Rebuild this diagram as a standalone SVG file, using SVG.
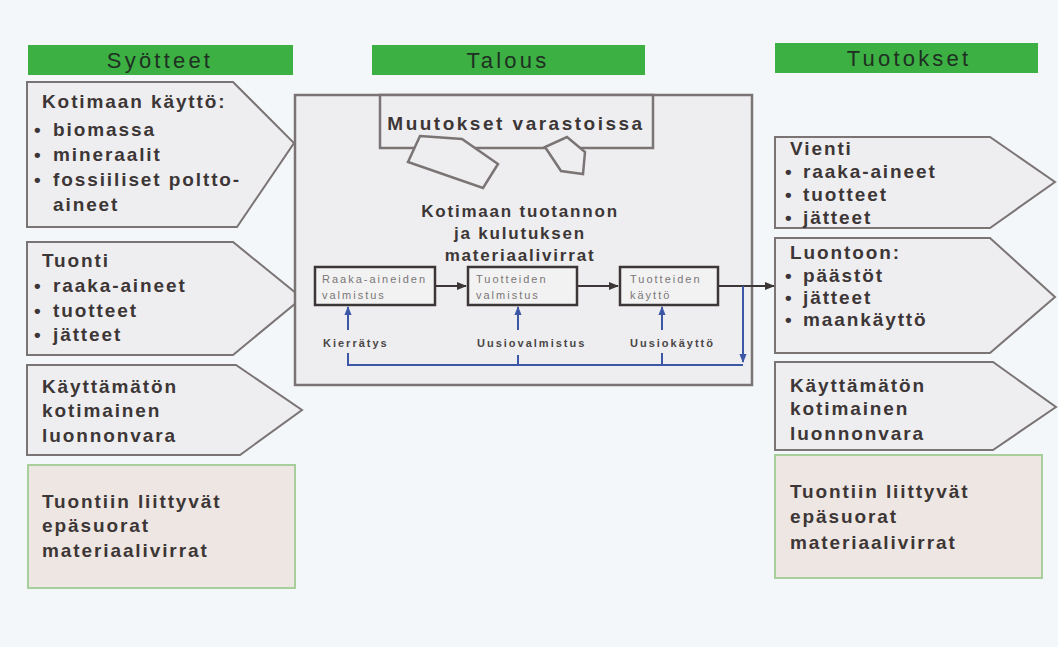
<svg xmlns="http://www.w3.org/2000/svg" width="1058" height="647" viewBox="0 0 1058 647">
<style>
text{font-family:"Liberation Sans",Arial,sans-serif;}
.hdr{fill:#3cb043;}
.ht{font-size:22px;letter-spacing:3.2px;fill:#1f2f22;text-anchor:middle;}
.arr{fill:#eeeef0;stroke:#7b7474;stroke-width:2;}
.box{fill:#eeeef0;stroke:#7b7474;stroke-width:2.5;}
.ind{fill:#ede6e2;stroke:#a6cf9c;stroke-width:2;}
.t{font-size:19px;font-weight:bold;letter-spacing:1.9px;fill:#3d3636;}
.c{font-size:17px;font-weight:bold;letter-spacing:1.8px;fill:#3d3636;text-anchor:middle;}
.pb{fill:#f2f2f3;stroke:#3d3636;stroke-width:2.5;}
.pt{font-size:11px;letter-spacing:2px;fill:#7a7676;}
.bt{font-size:11px;font-weight:bold;letter-spacing:2px;fill:#4a4646;}
.flow{stroke:#3d3636;stroke-width:2;fill:none;}
.blue{stroke:#3b57a6;stroke-width:2;fill:none;}
</style>
<defs>
<marker id="ah" viewBox="0 0 10 10" refX="9" refY="5" markerWidth="5" markerHeight="5" orient="auto"><path d="M0,1 L10,5 L0,9 z" fill="#3d3636"/></marker>
<marker id="bh" viewBox="0 0 10 10" refX="9" refY="5" markerWidth="4.5" markerHeight="4.5" orient="auto"><path d="M0,1 L10,5 L0,9 z" fill="#3b57a6"/></marker>
</defs>
<rect x="0" y="0" width="1058" height="647" fill="#f4f7fa"/>

<g id="hdr-syotteet"><rect class="hdr" x="28" y="45" width="265" height="30"/><text class="ht" x="160" y="68">Syötteet</text></g>
<g id="hdr-talous"><rect class="hdr" x="372" y="45" width="273" height="30"/><text class="ht" x="508" y="68">Talous</text></g>
<g id="hdr-tuotokset"><rect class="hdr" x="775" y="43" width="263" height="30"/><text class="ht" x="909" y="66">Tuotokset</text></g>

<g id="in-kotimaan">
<polygon class="arr" points="27,82 233,82 294,143 237,227 27,227"/>
<text class="t" x="42" y="108">Kotimaan käyttö:</text>
<text class="t" x="34" y="136">•<tspan x="53">biomassa</tspan></text>
<text class="t" x="34" y="161">•<tspan x="53">mineraalit</tspan></text>
<text class="t" x="34" y="186">•<tspan x="53">fossiiliset poltto-</tspan></text>
<text class="t" x="53" y="211">aineet</text>
</g>
<g id="in-tuonti">
<polygon class="arr" points="27,242 233,242 302,298 233,355 27,355"/>
<text class="t" x="42" y="267">Tuonti</text>
<text class="t" x="34" y="292">•<tspan x="53">raaka-aineet</tspan></text>
<text class="t" x="34" y="317">•<tspan x="53">tuotteet</tspan></text>
<text class="t" x="34" y="341">•<tspan x="53">jätteet</tspan></text>
</g>
<g id="in-kayttamaton">
<polygon class="arr" points="27,365 236,365 302,410 240,455 27,455"/>
<text class="t" x="42" y="393">Käyttämätön</text>
<text class="t" x="42" y="417">kotimainen</text>
<text class="t" x="42" y="442">luonnonvara</text>
</g>
<g id="in-epasuorat">
<rect class="ind" x="28" y="465" width="267" height="123"/>
<text class="t" x="42" y="508">Tuontiin liittyvät</text>
<text class="t" x="42" y="532">epäsuorat</text>
<text class="t" x="42" y="557">materiaalivirrat</text>
</g>

<g id="talous">
<rect class="box" x="295" y="95" width="457" height="290"/>
</g>
<g id="varastot">
<rect class="box" x="380" y="95" width="273" height="53"/>
<text class="t" x="516" y="130" text-anchor="middle" style="letter-spacing:2.5px">Muutokset varastoissa</text>
<polygon class="box" points="420,136 462,139 498,164 483,188 408,162"/>
<polygon class="box" points="567,137 585,152 583,174 561,171 545,147"/>
</g>
<g id="kotimaan-virrat">
<text class="c" x="520" y="217">Kotimaan tuotannon</text>
<text class="c" x="520" y="239">ja kulutuksen</text>
<text class="c" x="520" y="261">materiaalivirrat</text>
</g>
<g id="raaka">
<rect class="pb" x="315" y="267" width="120" height="38"/>
<text class="pt" x="322" y="283">Raaka-aineiden</text>
<text class="pt" x="322" y="299">valmistus</text>
</g>
<g id="tuot-valm">
<rect class="pb" x="468" y="267" width="109" height="38"/>
<text class="pt" x="476" y="283">Tuotteiden</text>
<text class="pt" x="476" y="299">valmistus</text>
</g>
<g id="tuot-kaytto">
<rect class="pb" x="620" y="267" width="98" height="38"/>
<text class="pt" x="630" y="283">Tuotteiden</text>
<text class="pt" x="630" y="299">käyttö</text>
</g>
<g id="labels">
<text class="bt" x="323" y="347">Kierrätys</text>
<text class="bt" x="477" y="347">Uusiovalmistus</text>
<text class="bt" x="630" y="347">Uusiokäyttö</text>
</g>

<g id="connectors">
<line class="flow" x1="435" y1="286" x2="466" y2="286" marker-end="url(#ah)"/>
<line class="flow" x1="577" y1="286" x2="618" y2="286" marker-end="url(#ah)"/>
<line class="flow" x1="718" y1="286" x2="774" y2="286" marker-end="url(#ah)"/>
<line class="blue" x1="743" y1="286" x2="743" y2="362" marker-end="url(#bh)"/>
<polyline class="blue" points="348,353 348,365 743,365"/>
<line class="blue" x1="518" y1="355" x2="518" y2="365"/>
<line class="blue" x1="662" y1="353" x2="662" y2="365"/>
<line class="blue" x1="348" y1="330" x2="348" y2="307" marker-end="url(#bh)"/>
<line class="blue" x1="518" y1="330" x2="518" y2="307" marker-end="url(#bh)"/>
<line class="blue" x1="662" y1="330" x2="662" y2="307" marker-end="url(#bh)"/>
</g>

<g id="out-vienti">
<polygon class="arr" points="775,137 990,137 1055,182 990,228 775,228"/>
<text class="t" x="790" y="155">Vienti</text>
<text class="t" x="785" y="178">•<tspan x="803">raaka-aineet</tspan></text>
<text class="t" x="785" y="201">•<tspan x="803">tuotteet</tspan></text>
<text class="t" x="785" y="224">•<tspan x="803">jätteet</tspan></text>
</g>
<g id="out-luontoon">
<polygon class="arr" points="775,238 990,238 1055,297 990,353 775,353"/>
<text class="t" x="790" y="259">Luontoon:</text>
<text class="t" x="785" y="282">•<tspan x="803">päästöt</tspan></text>
<text class="t" x="785" y="304">•<tspan x="803">jätteet</tspan></text>
<text class="t" x="785" y="326">•<tspan x="803">maankäyttö</tspan></text>
</g>
<g id="out-kayttamaton">
<polygon class="arr" points="775,362 993,362 1056,407 993,450 775,450"/>
<text class="t" x="790" y="392">Käyttämätön</text>
<text class="t" x="790" y="415">kotimainen</text>
<text class="t" x="790" y="440">luonnonvara</text>
</g>
<g id="out-epasuorat">
<rect class="ind" x="775" y="455" width="267" height="123"/>
<text class="t" x="790" y="498">Tuontiin liittyvät</text>
<text class="t" x="790" y="523">epäsuorat</text>
<text class="t" x="790" y="549">materiaalivirrat</text>
</g>
</svg>
